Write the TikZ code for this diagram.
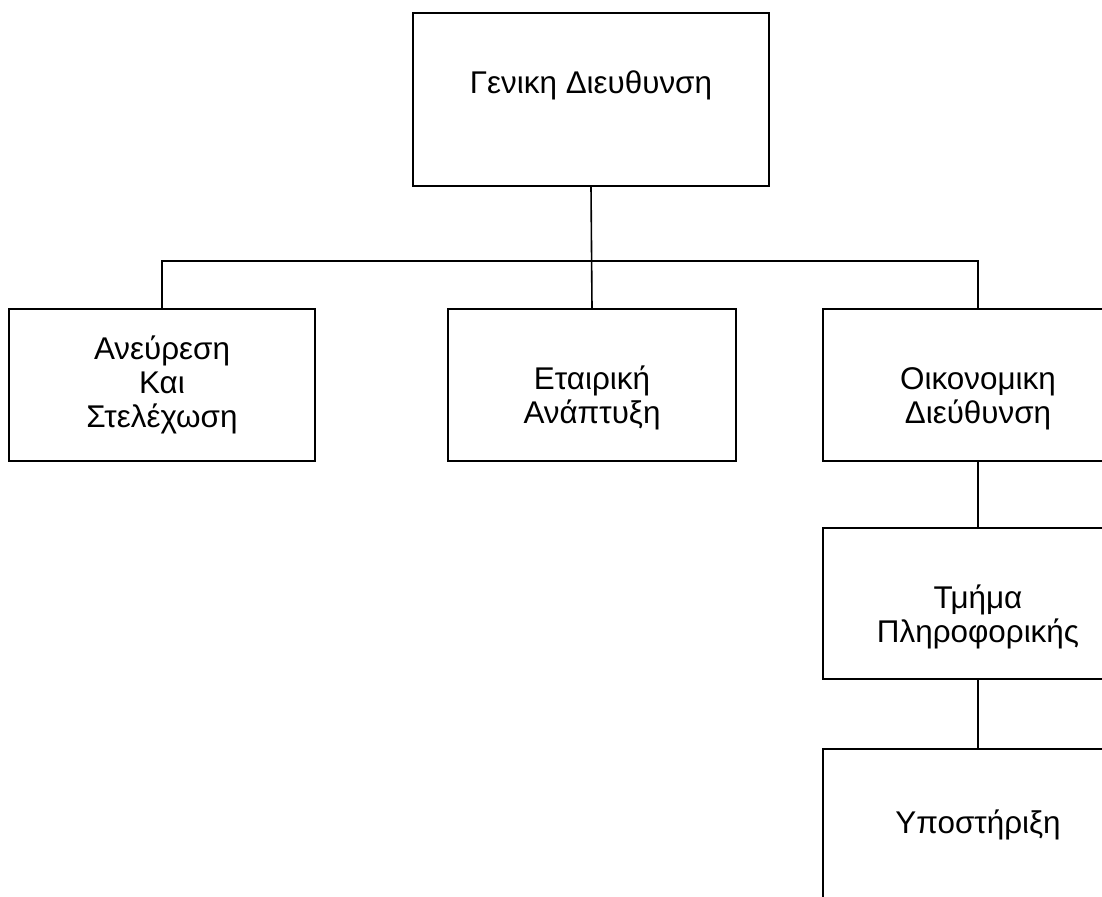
\documentclass[tikz,border=0pt]{standalone}
\usepackage{fontspec}
\setmainfont{Liberation Sans}
\usetikzlibrary{calc}

% extra room above the first line of a two-line box
\newcommand{\toppad}{\rule{0pt}{25pt}}

\begin{document}
\begin{tikzpicture}[
    x=0.5pt,
    y=-0.5pt,
    every node/.style={
        font=\fontsize{15.7pt}{17pt}\selectfont
    },
    unit/.style={
        rectangle,
        draw=black,
        line width=1pt,
        minimum width=153pt,
        minimum height=76pt,
        align=center,
        fill=white,
        inner sep=0pt
    },
    link/.style={
        draw=black,
        line width=0.8pt
    }
]

% frame of the page (boxes on the right run past it)
\fill[white] (0,0) rectangle (1102,896);
\path[use as bounding box, clip] (0,0) rectangle (1102,896);

% ===========================================================
% TOP: general management
% ===========================================================

\node[unit, minimum width=178pt, minimum height=86.5pt] (gen) at (591,99.5)
    {Γενικη Διευθυνση\\ \mbox{}};

% ===========================================================
% SECOND LEVEL
% ===========================================================

\node[unit] (recr) at (162,385)
    {Ανεύρεση\\
     Και\\
     Στελέχωση};

\node[unit, minimum width=144pt] (corp) at (592,385)
    {\toppad Εταιρική\\
     Ανάπτυξη};

\node[unit, minimum width=155pt] (fin) at (978,385)
    {\toppad Οικονομικη\\
     Διεύθυνση};

% ===========================================================
% UNDER FINANCE
% ===========================================================

\node[unit, minimum width=155pt, minimum height=75.5pt] (infodep) at (978,603.5)
    {\toppad Τμήμα\\
     Πληροφορικής};

\node[unit, minimum width=155pt] (support) at (978,825)
    {Υποστήριξη};

% Connectors
\coordinate (bus) at (592,261);

\draw[link] (gen.south) -- (corp.north);
\draw[link] (recr.north) |- (bus) -| (fin.north);
\draw[link] (fin.south) -- (infodep.north);
\draw[link] (infodep.south) -- (support.north);

\end{tikzpicture}
\end{document}
